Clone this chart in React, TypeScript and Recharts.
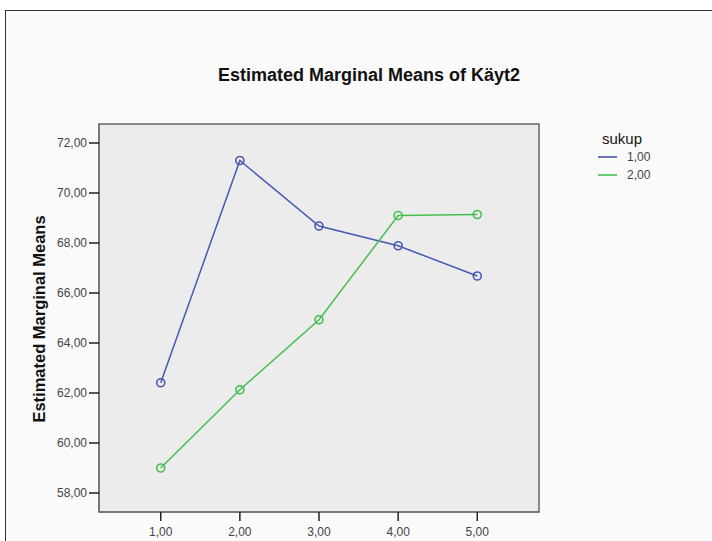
import React from 'react';
import {
  LineChart,
  Line,
  XAxis,
  YAxis,
  CartesianGrid,
  ReferenceArea,
} from 'recharts';

// levels of Käyt (x) and the two sukup groups
const levels = [1, 2, 3, 4, 5];
const sukup1 = [62.41, 71.3, 68.68, 67.89, 66.68];
const sukup2 = [59.0, 62.13, 64.93, 69.1, 69.14];
const yTicks = [58, 60, 62, 64, 66, 68, 70, 72];

const groups = [
  { key: 's1', name: '1,00', color: '#4659b5' },
  { key: 's2', name: '2,00', color: '#46bf50' },
];

const data = levels.map((x, i) => ({ x, s1: sukup1[i], s2: sukup2[i] }));

const xDomain = [0.22, 5.78];
const yDomain = [57.24, 72.76];

const font = '"Liberation Sans", Arial, sans-serif';
const fmt = (v: number) => v.toFixed(2).replace('.', ',');

// legend drawn as plain html so the chart keeps its full plot height
const LegendBox = () => (
  <div style={{ position: 'absolute', left: 598, top: 130, fontFamily: font }}>
    <div style={{ fontSize: 15, color: '#111', marginLeft: 4, lineHeight: '18px' }}>sukup</div>
    {groups.map((g) => (
      <div key={g.key} style={{ display: 'flex', alignItems: 'center', height: 18 }}>
        <div style={{ width: 19, height: 2, background: g.color, opacity: 0.8 }} />
        <span style={{ marginLeft: 10, fontSize: 12, color: '#444' }}>{g.name}</span>
      </div>
    ))}
  </div>
);

export default function App() {
  return (
    <div style={{ position: 'absolute', left: 0, top: 0, width: 712, height: 541, background: '#fff', overflow: 'hidden' }}>
      {/* panel frame */}
      <div
        style={{
          position: 'absolute',
          left: 5,
          top: 10,
          right: -4,
          bottom: -4,
          borderTop: '1.5px solid #333',
          borderLeft: '1.5px solid #333',
          background: '#fafafa',
        }}
      />
      <div
        style={{
          position: 'absolute',
          left: 0,
          width: 738,
          top: 65,
          textAlign: 'center',
          fontFamily: font,
          fontWeight: 'bold',
          fontSize: 18,
          color: '#111',
        }}
      >
        Estimated Marginal Means of Käyt2
      </div>
      <div
        style={{
          position: 'absolute',
          left: 39,
          top: 319,
          transform: 'translate(-50%, -50%) rotate(-90deg)',
          whiteSpace: 'nowrap',
          fontFamily: font,
          fontWeight: 'bold',
          fontSize: 16.5,
          color: '#111',
        }}
      >
        Estimated Marginal Means
      </div>
      <div style={{ position: 'absolute', left: 0, top: 0 }}>
        <LineChart
          width={712}
          height={541}
          data={data}
          margin={{ top: 124, right: 173, bottom: 0, left: 39 }}
        >
          <CartesianGrid fill="#ececec" horizontal={false} vertical={false} />
          <XAxis
            dataKey="x"
            type="number"
            domain={xDomain}
            ticks={levels}
            allowDataOverflow
            height={29}
            tickSize={9}
            tickMargin={6}
            tickFormatter={fmt}
            axisLine={{ stroke: '#666' }}
            tickLine={{ stroke: '#222', strokeWidth: 1.5 }}
            tick={{ fill: '#444', fontSize: 12, fontFamily: font }}
          />
          <YAxis
            type="number"
            domain={yDomain}
            ticks={yTicks}
            allowDataOverflow
            width={60}
            tickSize={10}
            tickMargin={2}
            tickFormatter={fmt}
            axisLine={{ stroke: '#666' }}
            tickLine={{ stroke: '#222', strokeWidth: 1.5 }}
            tick={{ fill: '#444', fontSize: 12, fontFamily: font }}
          />
          <ReferenceArea
            x1={xDomain[0]}
            x2={xDomain[1]}
            y1={yDomain[0]}
            y2={yDomain[1]}
            fill="none"
            stroke="#666"
            strokeWidth={1.5}
          />
          {groups.map((g) => (
            <Line
              key={g.key}
              type="linear"
              dataKey={g.key}
              name={g.name}
              stroke={g.color}
              strokeWidth={1.5}
              dot={{ r: 4, fill: 'none', stroke: g.color, strokeWidth: 1.6 }}
              activeDot={false}
              isAnimationActive={false}
            />
          ))}
        </LineChart>
      </div>
      <LegendBox />
    </div>
  );
}
